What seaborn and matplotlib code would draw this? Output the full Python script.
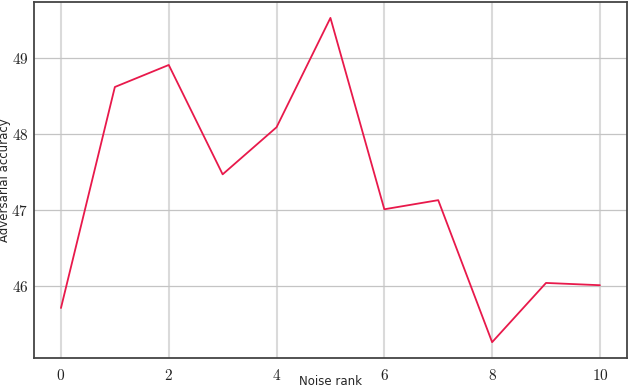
import numpy as np
import matplotlib
matplotlib.use("Agg")
import matplotlib.pyplot as plt
import matplotlib.ticker as mticker
import seaborn as sns
import pandas as pd

# data
noise_rank = [0, 1, 2, 3, 4, 5, 6, 7, 8, 9, 10]
adv_accuracy = [45.71, 48.62, 48.91, 47.47, 48.09, 49.53, 47.01, 47.13, 45.26, 46.04, 46.01]
x_ticks = [0, 2, 4, 6, 8, 10]
y_ticks = [46, 47, 48, 49]

sns.set_style("whitegrid")
plt.rcParams["font.family"] = ["DejaVu Sans"]
plt.rcParams["mathtext.fontset"] = "cm"

df = pd.DataFrame({"Noise rank": noise_rank, "Adversarial accuracy": adv_accuracy})

fig = plt.figure(figsize=(6.3, 3.88), dpi=100)
ax = fig.add_axes([0.054, 0.077, 0.941, 0.918])

sns.lineplot(data=df, x="Noise rank", y="Adversarial accuracy", ax=ax,
             color="#e8194b", linewidth=1.3)

ax.set_xlim(-0.5, 10.5)
ax.set_ylim(45.05, 49.74)
ax.set_xticks(x_ticks)
ax.set_yticks(y_ticks)
ax.xaxis.set_major_formatter(mticker.FuncFormatter(lambda v, p: f"${int(v)}$"))
ax.yaxis.set_major_formatter(mticker.FuncFormatter(lambda v, p: f"${int(v)}$"))
ax.tick_params(axis="both", labelsize=11, length=3, width=0.8, colors="#444444",
               labelcolor="#222222", pad=4)
ax.tick_params(axis="y", length=0)

ax.grid(axis="x", color="#dadada", linewidth=1.5)
ax.grid(axis="y", color="#c4c4c4", linewidth=0.9)

for s in ax.spines.values():
    s.set_color("#444444")
    s.set_linewidth(1.3)

ax.set_xlabel("Noise rank", fontsize=8.5)
ax.set_ylabel("Adversarial accuracy", fontsize=8.5)
ax.xaxis.set_label_coords(0.5, -0.048)
ax.yaxis.set_label_coords(-0.038, 0.5)

fig.savefig("out.png", dpi=100)
